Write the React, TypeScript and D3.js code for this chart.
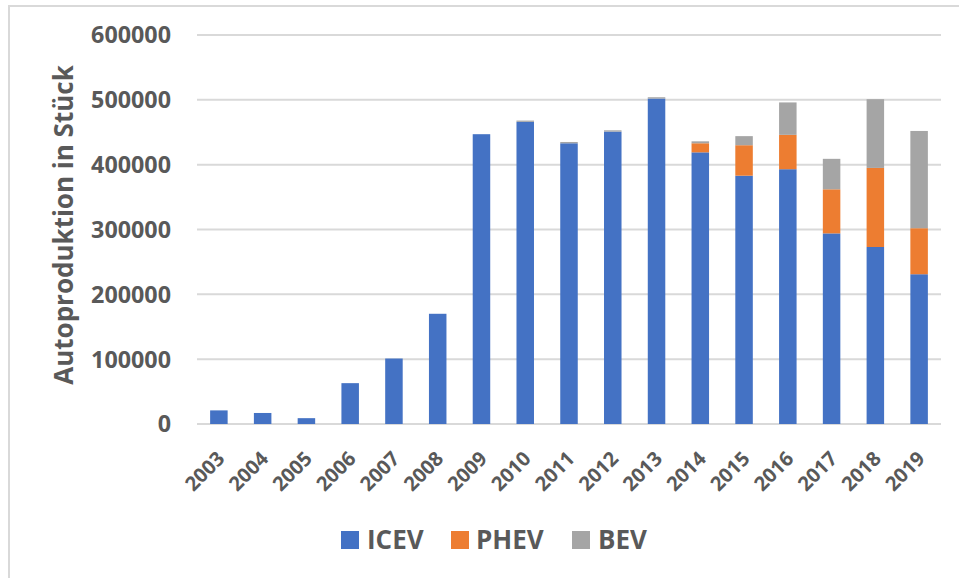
import React from "react";
import * as d3 from "d3";

const years = ["2003","2004","2005","2006","2007","2008","2009","2010","2011","2012","2013","2014","2015","2016","2017","2018","2019"];
const icev = [21000, 17000, 9000, 63000, 101000, 170000, 447000, 466000, 433000, 451000, 502000, 419000, 383000, 393000, 294000, 273000, 231000];
const phev = [0, 0, 0, 0, 0, 0, 0, 0, 0, 0, 0, 14000, 47000, 53000, 68000, 122000, 71000];
const bev = [0, 0, 0, 0, 0, 0, 0, 2000, 2000, 2000, 2000, 3000, 14000, 50000, 47000, 106000, 150000];
const seriesNames = ["ICEV", "PHEV", "BEV"];
const colors = ["#4472C4", "#ED7D31", "#A5A5A5"];
const yTicks = [0, 100000, 200000, 300000, 400000, 500000, 600000];
const yTitle = "Autoproduktion in Stück";

const W = 959, H = 578;
const FONT = "'Open Sans', 'Noto Sans', sans-serif";
const TEXT = "#595959";

export default function App() {
  const rows = years.map((y, i) => ({ year: y, ICEV: icev[i], PHEV: phev[i], BEV: bev[i] }));
  const stack = d3.stack<any>().keys(seriesNames)(rows);
  const x = d3.scaleBand().domain(years).range([197, 941]).paddingInner(0.6).paddingOuter(0.3);
  const y = d3.scaleLinear().domain([0, 600000]).range([424, 35]);

  const legendItems = [
    { name: "ICEV", sx: 341, tx: 367 },
    { name: "PHEV", sx: 451, tx: 476 },
    { name: "BEV", sx: 572, tx: 598 },
  ];

  return (
    <svg width={W} height={H} style={{ position: "absolute", left: 0, top: 0, background: "#fff" }}>
      <rect x={9} y={6} width={1000} height={700} fill="#fff" stroke="#d9d9d9" strokeWidth={2} />
      {yTicks.map((t) => (
        <g key={t}>
          <line x1={197} x2={941} y1={y(t)} y2={y(t)} stroke="#d9d9d9" strokeWidth={2} />
          <text x={171} y={y(t)} dy="0.36em" textAnchor="end" fontFamily={FONT} fontWeight={700} fontSize={23.3} fill={TEXT}>
            {t}
          </text>
        </g>
      ))}
      {stack.map((s, si) => (
        <g key={s.key} fill={colors[si]}>
          {s.map((d, i) => {
            const h = y(d[0]) - y(d[1]);
            if (h <= 0) return null;
            return <rect key={i} x={x(years[i])} y={y(d[1])} width={x.bandwidth()} height={h} />;
          })}
        </g>
      ))}
      {years.map((yr) => (
        <text
          key={yr}
          transform={`translate(${(x(yr) as number) + x.bandwidth() / 2 + 2},${455}) rotate(-45)`}
          textAnchor="end"
          dy="0.35em"
          fontFamily={FONT}
          fontWeight={700}
          fontSize={20}
          fill={TEXT}
        >
          {yr}
        </text>
      ))}
      <text
        transform={`translate(73,225) rotate(-90)`}
        textAnchor="middle"
        fontFamily={FONT}
        fontWeight={700}
        fontSize={26}
        fill={TEXT}
      >
        {yTitle}
      </text>
      {legendItems.map((l, i) => (
        <g key={l.name}>
          <rect x={l.sx} y={531} width={18} height={18} fill={colors[i]} />
          <text x={l.tx} y={549} fontFamily={FONT} fontWeight={700} fontSize={26} fill={TEXT}>
            {l.name}
          </text>
        </g>
      ))}
    </svg>
  );
}
